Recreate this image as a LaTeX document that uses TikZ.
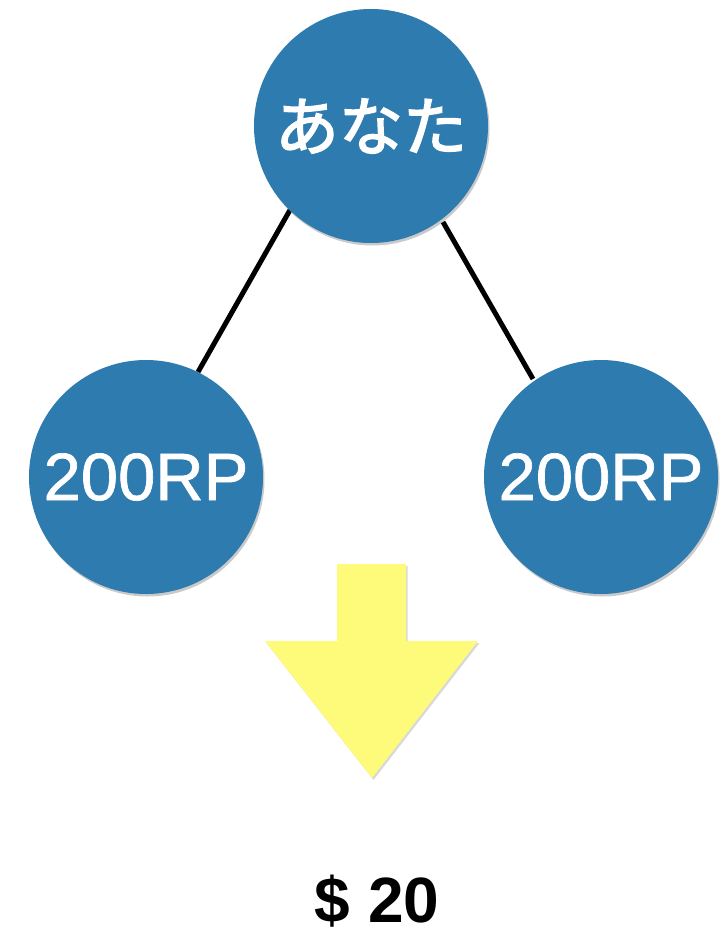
\documentclass[tikz,border=0pt]{standalone}
\usepackage{fontspec}
\setmainfont{Liberation Sans}
\newfontfamily\cjk[FakeBold=2.5]{Noto Sans CJK JP}
\newfontfamily\rpfont[FakeBold=1]{Liberation Sans}
\usetikzlibrary{shadows}
\definecolor{nodeblue}{HTML}{2E7BAF}
\definecolor{arrowyellow}{HTML}{FEFB7A}
\tikzset{
  person/.style={circle, fill=nodeblue, minimum size=234pt, inner sep=0pt, text=white,
    drop shadow={shadow xshift=1.5pt, shadow yshift=-2.5pt, opacity=0.35, fill=black!60}},
  link/.style={line width=5pt, black},
  bigarrow/.style={fill=arrowyellow, draw=none,
    drop shadow={shadow xshift=1.5pt, shadow yshift=-2pt, opacity=0.3, fill=black!50}},
}
\begin{document}
\begin{tikzpicture}[x=1pt,y=-1pt]
\useasboundingbox (0,0) rectangle (724,935);
\coordinate (lt1) at (290,210);
\coordinate (rt1) at (443,222);
\coordinate (lb1) at (198,372);
\coordinate (rb1) at (533,379);
\draw[link] (lt1) -- (lb1);
\draw[link] (rt1) -- (rb1);
\node[person, font=\cjk\fontsize{64}{64}\selectfont] (you) at (371,126) {あなた};
\node[person, font=\rpfont\fontsize{67}{67}\selectfont] (left) at (146,477) {200RP};
\node[person, font=\rpfont\fontsize{67}{67}\selectfont] (right) at (601,477) {200RP};
\path[bigarrow] (337,564) -- (406,564) -- (406,641) -- (478,641) -- (372,778) -- (265,641) -- (337,641) -- cycle;
\node[font=\bfseries\fontsize{64}{64}\selectfont, anchor=base] (price) at (377,922) {\$ 20};
\end{tikzpicture}
\end{document}
